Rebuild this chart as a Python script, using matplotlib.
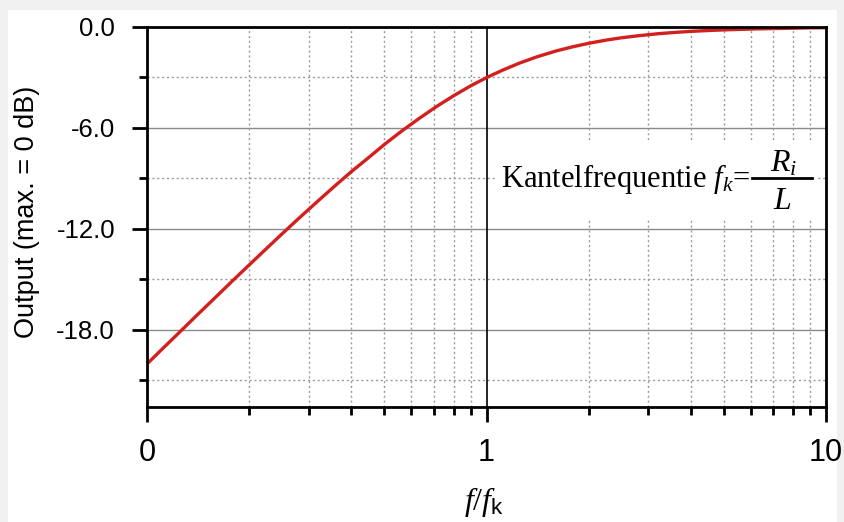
import matplotlib
matplotlib.use("Agg")
import matplotlib.pyplot as plt
import matplotlib.ticker as mticker
from matplotlib.patches import Rectangle
from matplotlib.lines import Line2D

# Data (f/fk vs output in dB)
freq_ratio = [0.1, 0.11, 0.125, 0.14, 0.16, 0.18, 0.2, 0.225, 0.25, 0.28, 0.32, 0.36, 0.4, 0.45,
              0.5, 0.56, 0.63, 0.71, 0.8, 0.9, 1.0, 1.12, 1.25, 1.4, 1.6, 1.8, 2.0, 2.25, 2.5,
              2.8, 3.2, 3.6, 4.0, 4.5, 5.0, 5.6, 6.3, 7.1, 8.0, 9.0, 10.0]
output_db = [-20.04, -19.22, -18.13, -17.16, -16.03, -15.03, -14.15, -13.17, -12.30, -11.38,
             -10.32, -9.40, -8.60, -7.76, -6.99, -6.22, -5.47, -4.75, -4.09, -3.49, -3.01,
             -2.55, -2.15, -1.79, -1.43, -1.17, -0.97, -0.78, -0.64, -0.52, -0.40, -0.32,
             -0.26, -0.21, -0.17, -0.14, -0.11, -0.09, -0.07, -0.05, -0.04]

y_major = [0.0, -6.0, -12.0, -18.0]
y_minor = [-3.0, -9.0, -15.0, -21.0]
x_major = [0.1, 1, 10]
x_major_labels = ["0", "1", "10"]
x_minor = [0.2, 0.3, 0.4, 0.5, 0.6, 0.7, 0.8, 0.9, 2, 3, 4, 5, 6, 7, 8, 9]

plt.rcParams['mathtext.fontset'] = 'custom'
plt.rcParams['mathtext.rm'] = 'Liberation Serif'
plt.rcParams['mathtext.it'] = 'Liberation Serif:italic'
plt.rcParams['mathtext.sf'] = 'Liberation Sans'

W, H = 844, 522
fig = plt.figure(figsize=(W / 100, H / 100), dpi=100, facecolor='#f0f0f0')
fig.patches.append(Rectangle((8 / W, 0), 829 / W, 512 / H, transform=fig.transFigure,
                             facecolor='white', edgecolor='none', zorder=-10))

L, R, T, B = 147, 826, 27, 407
ax = fig.add_axes([L / W, (H - B) / H, (R - L) / W, (B - T) / H])
ax.set_zorder(1)
ax.set_facecolor('white')
ax.set_xscale('log')
ax.set_xlim(0.1, 10)
ax.set_ylim(-22.6, 0)


def axx(px):
    return (px - L) / (R - L)


def axy(py):
    return (B - py) / (B - T)


# grid
for y in y_major[1:]:
    ax.axhline(y, color='#8a8a8a', lw=1.0, zorder=1)
for y in y_minor:
    ax.axhline(y, color='#9a9a9a', lw=1.0, ls=(0, (1.5, 2)), zorder=1)
for x in x_minor:
    ax.axvline(x, color='#9a9a9a', lw=1.0, ls=(0, (1.5, 2)), zorder=1)
ax.axvline(1, color='black', lw=1.2, zorder=1)

ax.plot(freq_ratio, output_db, color='#d41f1f', lw=2.4, zorder=3,
        solid_capstyle='butt', solid_joinstyle='round')

ax.xaxis.set_major_locator(mticker.FixedLocator(x_major))
ax.xaxis.set_major_formatter(mticker.FixedFormatter(x_major_labels))
ax.xaxis.set_minor_locator(mticker.FixedLocator(x_minor))
ax.xaxis.set_minor_formatter(mticker.NullFormatter())
ax.yaxis.set_major_locator(mticker.FixedLocator(y_major))
ax.yaxis.set_major_formatter(mticker.FormatStrFormatter('%.1f'))
ax.yaxis.set_minor_locator(mticker.FixedLocator(y_minor))

for s in ax.spines.values():
    s.set_linewidth(2.0)
    s.set_color('black')
    s.set_zorder(4)

ax.tick_params(axis='both', which='major', direction='out', length=11, width=2.0, color='black')
ax.tick_params(axis='both', which='minor', direction='out', length=6, width=2.0, color='black')
ax.tick_params(axis='x', which='major', pad=11, labelsize=22)
ax.tick_params(axis='y', which='major', pad=12, labelsize=18.5)
for lab in ax.get_xticklabels() + ax.get_yticklabels():
    lab.set_fontfamily('Liberation Sans')

fig.text(27 / W, 1 - 212 / H, 'Output (max. = 0 dB)', rotation=90, ha='center', va='center',
         fontsize=19.5, family='Liberation Sans')
fig.text(484 / W, 1 - 502 / H, r'$f/f_{\mathsf{k}}$', ha='center', va='center', fontsize=23)

# annotation: Kantelfrequentie f_k = R_i / L
ax.add_patch(Rectangle((axx(497), axy(218)), axx(816) - axx(497), axy(140) - axy(218),
                       transform=ax.transAxes, facecolor='white', edgecolor='none', zorder=5))
ax.text(axx(750), axy(187), r'Kantelfrequentie $f_k$=', transform=ax.transAxes,
        ha='right', va='baseline', fontsize=22, family='Liberation Serif', zorder=6)
ax.add_line(Line2D([axx(752), axx(812)], [axy(178), axy(178)], transform=ax.transAxes,
                   color='black', lw=2.0, zorder=6))
ax.text(axx(784), axy(171), r'$R_i$', transform=ax.transAxes,
        ha='center', va='baseline', fontsize=23, zorder=6)
ax.text(axx(782), axy(209), r'$L$', transform=ax.transAxes,
        ha='center', va='baseline', fontsize=23, zorder=6)

fig.savefig('out.png', dpi=100, facecolor=fig.get_facecolor())
